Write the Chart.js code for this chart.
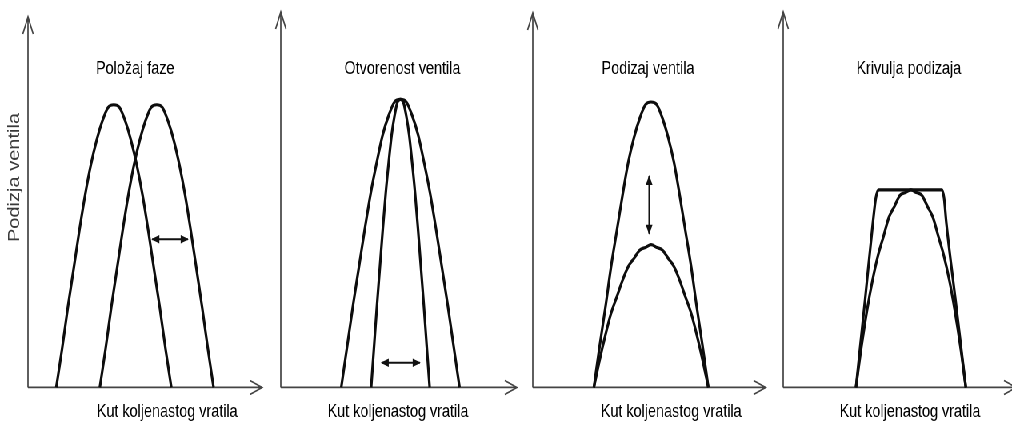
<!DOCTYPE html>
<html>
<head>
<meta charset="utf-8">
<script src="https://cdn.jsdelivr.net/npm/chart.js@4.4.1/dist/chart.umd.min.js"></script>
<style>
  html, body { margin: 0; padding: 0; background: #fff; overflow: hidden; width: 1012px; height: 426px; }
  /* crtež je vodoravno stisnut kao i original */
  #okvir { position: absolute; left: 0; top: 0; width: 1265px; height: 426px; transform: scaleX(0.8); transform-origin: 0 0; }
  canvas { position: absolute; top: 0; }
</style>
</head>
<body>
<div id="okvir">
<canvas id="p1" width="448" height="426" style="left:-55px"></canvas>
<canvas id="p2" width="324" height="426" style="left:341px"></canvas>
<canvas id="p3" width="424" height="426" style="left:598px"></canvas>
<canvas id="p4" width="340" height="426" style="left:966px"></canvas>
</div>
<script>
// tekstovi
var naslovi = ['Položaj faze', 'Otvorenost ventila', 'Podizaj ventila', 'Krivulja podizaja'];
var osX = 'Kut koljenastog vratila';
var osY = 'Podizja ventila';

// 1. položaj faze (kut u °, podizaj u mm)
var faza1Kut = [43.5, 52.4, 61.2, 70.1, 78.9, 87.8, 96.6, 105.5, 114.3, 123.2, 132, 140.8, 149.7, 158.5, 167.4, 176.3, 185.1, 193.9, 202.8, 211.6, 220.5];
var faza1Podizaj = [0, 1.4, 2.9, 4.3, 5.7, 7.0, 8.1, 9.0, 9.7, 10.2, 10.3, 10.2, 9.7, 9.0, 8.1, 7.0, 5.7, 4.3, 2.9, 1.4, 0];
var faza2Kut = [110.5, 119.3, 128, 136.8, 145.5, 154.3, 163, 171.8, 180.5, 189.3, 198, 206.8, 215.5, 224.3, 233, 241.8, 250.5, 259.3, 268, 276.8, 285.5];
var faza2Podizaj = [0, 1.4, 2.9, 4.3, 5.7, 7.0, 8.1, 9.0, 9.7, 10.2, 10.3, 10.2, 9.7, 9.0, 8.1, 7.0, 5.7, 4.3, 2.9, 1.4, 0];
var strelica1Kut = [191, 246];
var strelica1Podizaj = [5.4, 5.4];

// 2. otvorenost ventila
var otvorVanjskaKut = [93, 102.1, 111.2, 120.3, 129.4, 138.5, 147.6, 156.7, 165.8, 174.9, 184, 193.1, 202.2, 211.3, 220.4, 229.5, 238.6, 247.7, 256.8, 265.9, 275];
var otvorVanjskaPodizaj = [0, 1.5, 3.0, 4.4, 5.8, 7.1, 8.2, 9.2, 9.9, 10.4, 10.5, 10.4, 9.9, 9.2, 8.2, 7.1, 5.8, 4.4, 3.0, 1.5, 0];
var otvorUnutarnjaKut = [139, 143.5, 148, 152.5, 157, 161.5, 166, 170.5, 175, 179.5, 184, 188.5, 193, 197.5, 202, 206.5, 211, 215.5, 220, 224.5, 229];
var otvorUnutarnjaPodizaj = [0, 1.5, 3.0, 4.4, 5.8, 7.1, 8.2, 9.2, 9.9, 10.4, 10.5, 10.4, 9.9, 9.2, 8.2, 7.1, 5.8, 4.4, 3.0, 1.5, 0];
var strelica2Kut = [155, 214];
var strelica2Podizaj = [0.9, 0.9];

// 3. podizaj ventila
var podizajVisiKut = [94, 102.8, 111.6, 120.4, 129.2, 138, 146.8, 155.6, 164.4, 173.2, 182, 190.8, 199.6, 208.4, 217.2, 226, 234.8, 243.6, 252.4, 261.2, 270];
var podizajVisiPodizaj = [0, 1.5, 2.9, 4.4, 5.7, 7.0, 8.2, 9.1, 9.8, 10.3, 10.4, 10.3, 9.8, 9.1, 8.2, 7.0, 5.7, 4.4, 2.9, 1.5, 0];
var podizajNiziKut = [94, 102.8, 111.6, 120.4, 129.2, 138, 146.8, 155.6, 164.4, 173.2, 182, 190.8, 199.6, 208.4, 217.2, 226, 234.8, 243.6, 252.4, 261.2, 270];
var podizajNiziPodizaj = [0, 1.0, 1.9, 2.7, 3.3, 3.9, 4.4, 4.7, 5.0, 5.1, 5.2, 5.1, 5.0, 4.7, 4.4, 3.9, 3.3, 2.7, 1.9, 1.0, 0];
var strelica3Kut = [179, 179];
var strelica3Podizaj = [7.7, 5.6];

// 4. krivulja podizaja
var krivuljaTrapezKut = [112, 119, 126, 138, 142.5, 147, 244, 247.5, 251, 265, 273, 281];
var krivuljaTrapezPodizaj = [0, 1.6, 3.2, 6.0, 6.9, 7.2, 7.2, 6.9, 6.0, 3.2, 1.6, 0];
var krivuljaKut = [112, 120.5, 128.9, 137.4, 145.8, 154.3, 162.7, 171.2, 179.6, 188.1, 196.5, 205, 213.4, 221.9, 230.3, 238.8, 247.2, 255.7, 264.1, 272.6, 281];
var krivuljaPodizaj = [0, 1.5, 2.8, 3.9, 4.8, 5.5, 6.2, 6.6, 7.0, 7.1, 7.2, 7.1, 7.0, 6.6, 6.2, 5.5, 4.8, 3.9, 2.8, 1.5, 0];

var FONT = "'Liberation Sans', Arial, sans-serif";

function tocke(kut, podizaj) {
	return kut.map(function (k, i) { return { x: k, y: podizaj[i] }; });
}

function krivulja(kut, podizaj) {
	return {
		data: tocke(kut, podizaj),
		borderColor: '#0d0d0d',
		borderWidth: 3.2,
		pointRadius: 0,
		fill: false,
		clip: false,
		cubicInterpolationMode: 'monotone'
	};
}

function strelica(kut, podizaj) {
	return {
		data: tocke(kut, podizaj),
		borderColor: '#111',
		borderWidth: 1.9,
		pointRadius: 0,
		fill: false,
		clip: false,
		tension: 0,
		strelica: true
	};
}

// mali trokut na kraju strelice
function glava(ctx, od, vrh) {
	var kut = Math.atan2(vrh.y - od.y, vrh.x - od.x);
	ctx.save();
	ctx.translate(vrh.x, vrh.y);
	ctx.rotate(kut);
	ctx.beginPath();
	ctx.moveTo(1, 0);
	ctx.lineTo(-9, -4.2);
	ctx.lineTo(-9, 4.2);
	ctx.closePath();
	ctx.fill();
	ctx.restore();
}

var strelicePlugin = {
	id: 'strelice',
	beforeDatasetsDraw: function (chart, args, o) {
		var ctx = chart.ctx, a = chart.chartArea;
		var x0 = a.left, y0 = a.bottom, xt = a.left + o.duljinaX;
		ctx.save();
		ctx.strokeStyle = '#444';
		ctx.lineWidth = 1.7;
		ctx.beginPath();
		ctx.moveTo(x0, y0); ctx.lineTo(x0, o.vrhY);
		ctx.moveTo(x0 - 6.5, o.vrhY + 17); ctx.lineTo(x0, o.vrhY); ctx.lineTo(x0 + 6.5, o.vrhY + 17);
		ctx.moveTo(x0, y0); ctx.lineTo(xt, y0);
		ctx.moveTo(xt - 15, y0 - 7); ctx.lineTo(xt, y0); ctx.lineTo(xt - 15, y0 + 7);
		ctx.stroke();
		ctx.restore();
	},
	afterDatasetsDraw: function (chart) {
		var ctx = chart.ctx;
		ctx.save();
		ctx.fillStyle = '#111';
		chart.data.datasets.forEach(function (ds, i) {
			if (!ds.strelica) return;
			var pts = chart.getDatasetMeta(i).data;
			glava(ctx, pts[1], pts[0]);
			glava(ctx, pts[0], pts[1]);
		});
		ctx.restore();
	}
};

function crtaj(id, naslov, skupovi, p) {
	new Chart(document.getElementById(id), {
		type: 'line',
		data: { datasets: skupovi },
		options: {
			responsive: false,
			animation: false,
			events: [],
			layout: { padding: { left: 10, right: 10, top: 0, bottom: 0 } },
			plugins: {
				legend: { display: false },
				tooltip: { enabled: false },
				title: {
					display: true,
					text: naslov,
					color: '#000',
					font: { family: FONT, size: 18, weight: 'normal' },
					padding: { top: 58.2, bottom: 33.2 }
				},
				strelice: { duljinaX: p.duljinaX, vrhY: p.vrhY }
			},
			scales: {
				x: {
					type: 'linear', min: 0, max: p.maxX,
					grid: { display: false, drawTicks: false },
					border: { display: false },
					ticks: { display: false },
					title: {
						display: true, text: osX, color: '#000',
						font: { family: FONT, size: 18 },
						padding: { top: 14, bottom: 3 }
					}
				},
				y: {
					type: 'linear', position: 'left', min: 0, max: 10,
					grid: { display: false, drawTicks: false },
					border: { display: false },
					ticks: { display: false },
					title: {
						display: p.imaY, text: osY, align: 'end', color: '#3a3a3a',
						font: { family: FONT, size: 20 },
						padding: { top: 51.7, bottom: 1 }
					},
					afterFit: function (s) { s.width = p.lijevo; }
				},
				y2: {
					type: 'linear', position: 'right', min: 0, max: 10,
					grid: { display: false, drawTicks: false },
					border: { display: false },
					ticks: { display: false },
					afterFit: function (s) { s.width = p.desno; }
				}
			}
		},
		plugins: [strelicePlugin]
	});
}

crtaj('p1', naslovi[0], [
	krivulja(faza1Kut, faza1Podizaj),
	krivulja(faza2Kut, faza2Podizaj),
	strelica(strelica1Kut, strelica1Podizaj)
], { maxX: 428.3, duljinaX: 292.5, vrhY: 17, imaY: true, lijevo: 80, desno: 0 });

crtaj('p2', naslovi[1], [
	krivulja(otvorVanjskaKut, otvorVanjskaPodizaj),
	krivulja(otvorUnutarnjaKut, otvorUnutarnjaPodizaj),
	strelica(strelica2Kut, strelica2Podizaj)
], { maxX: 360.6, duljinaX: 295, vrhY: 12, imaY: false, lijevo: 0, desno: 11 });

crtaj('p3', naslovi[2], [
	krivulja(podizajVisiKut, podizajVisiPodizaj),
	krivulja(podizajNiziKut, podizajNiziPodizaj),
	strelica(strelica3Kut, strelica3Podizaj)
], { maxX: 425.8, duljinaX: 291, vrhY: 13, imaY: false, lijevo: 58, desno: 0 });

crtaj('p4', naslovi[3], [
	krivulja(krivuljaTrapezKut, krivuljaTrapezPodizaj),
	krivulja(krivuljaKut, krivuljaPodizaj)
], { maxX: 390.2, duljinaX: 291, vrhY: 12, imaY: false, lijevo: 3, desno: 0 });
</script>
</body>
</html>
